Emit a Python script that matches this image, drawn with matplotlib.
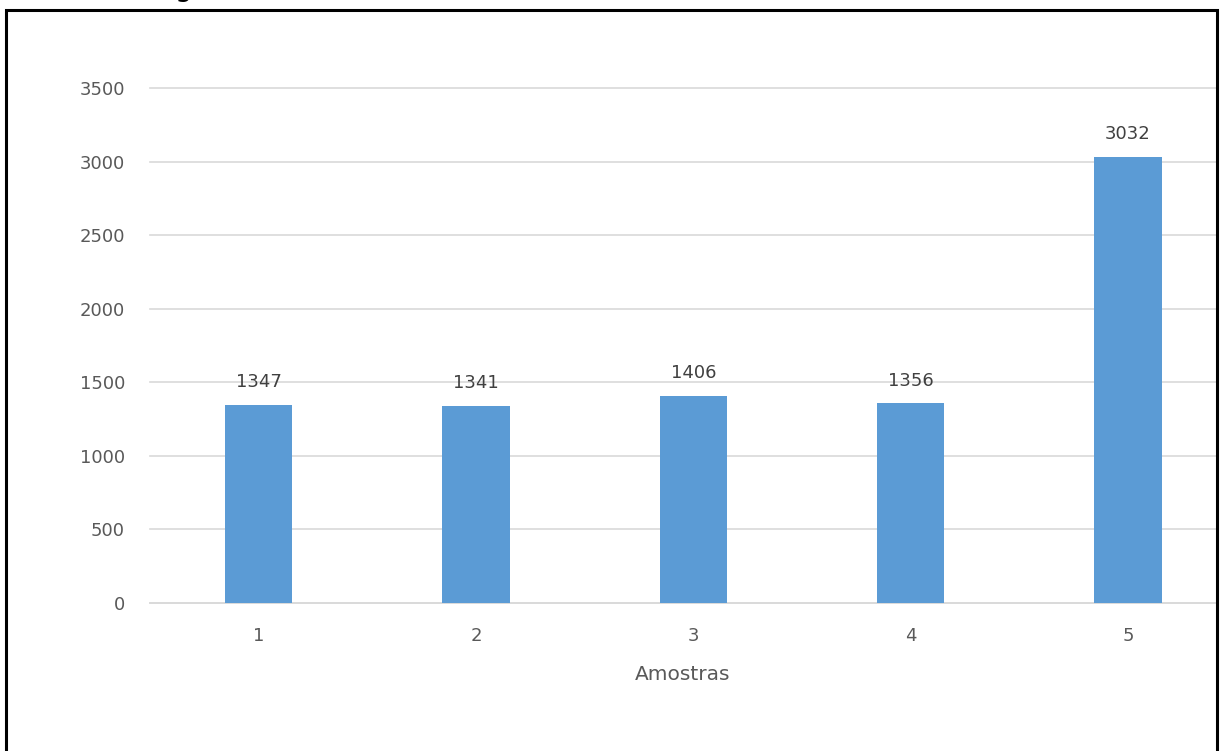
import matplotlib
matplotlib.use("Agg")
import matplotlib.pyplot as plt
from matplotlib.patches import Rectangle

amostras = ["1", "2", "3", "4", "5"]
valores = [1347, 1341, 1406, 1356, 3032]
yticks = [0, 500, 1000, 1500, 2000, 2500, 3000, 3500]

W, H = 1220, 751
fig = plt.figure(figsize=(W / 100, H / 100), dpi=100)
fig.patch.set_facecolor("white")

def px(x0, y0, x1, y1):
    return [x0 / W, 1 - y1 / H, (x1 - x0) / W, (y1 - y0) / H]

ax = fig.add_axes(px(150, 88, 1216, 603))
pos = list(range(len(amostras)))
bars = ax.bar(pos, valores, width=0.31, color="#5B9BD5", zorder=3)
for p, v in zip(pos, valores):
    ax.annotate(str(v), (p, v), xytext=(0, 10), textcoords="offset points",
                ha="center", va="bottom", fontsize=13, color="#404040")

ax.set_xlim(-0.5, 4.405)
ax.set_ylim(0, 3500)
ax.set_yticks(yticks)
ax.set_yticklabels([str(t) for t in yticks])
ax.set_xticks(pos)
ax.set_xticklabels(amostras)
ax.tick_params(axis="both", length=0, labelsize=13, labelcolor="#595959")
ax.tick_params(axis="y", pad=18)
ax.tick_params(axis="x", pad=17)
ax.grid(axis="y", color="#D9D9D9", linewidth=1.2, zorder=0)
for gl in ax.get_ygridlines():
    gl.set_clip_on(False)
for s in ("top", "right", "left"):
    ax.spines[s].set_visible(False)
ax.spines["bottom"].set_color("#D9D9D9")
ax.spines["bottom"].set_linewidth(1.2)
ax.set_xlabel("Amostras", fontsize=14.5, color="#595959", labelpad=15)

# outer frame, open at the bottom edge
fig.add_artist(Rectangle((6 / W, -0.05), (1211) / W, 1.05 - 10 / H,
                         transform=fig.transFigure, fill=False,
                         edgecolor="black", linewidth=2.2, clip_on=False))
fig.text(175 / W, 1 + 4 / H, "g", fontsize=20, color="black",
         ha="left", va="baseline")

fig.savefig("out.png", dpi=100)
